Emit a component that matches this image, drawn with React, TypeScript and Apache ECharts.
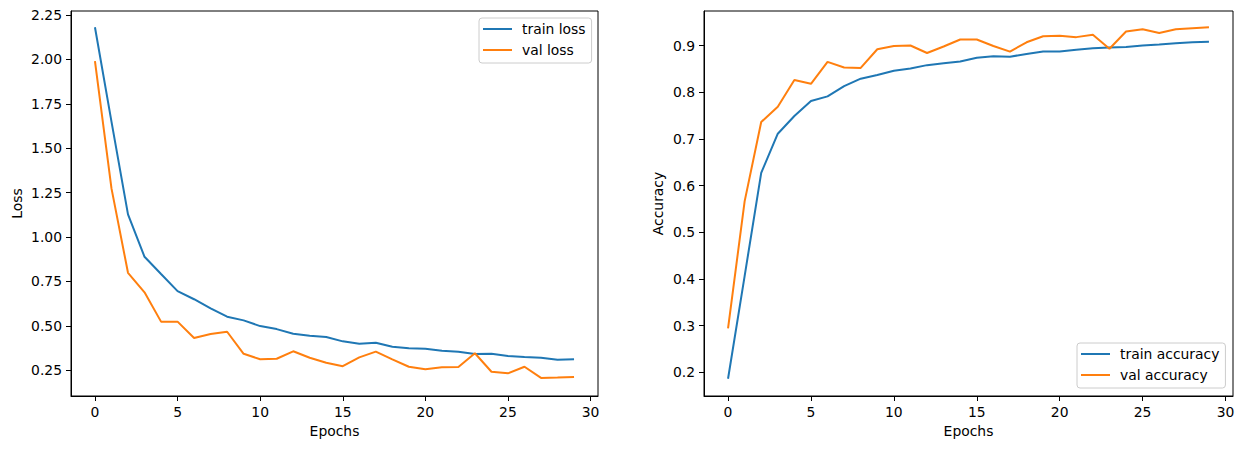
import React, { useEffect, useRef } from "react";
import * as echarts from "echarts";

const epochs = Array.from({ length: 30 }, (_, i) => i);

const trainLoss = [2.181, 1.65, 1.128, 0.889, 0.792, 0.696, 0.65, 0.599, 0.552, 0.531,
  0.499, 0.482, 0.456, 0.445, 0.437, 0.413, 0.4, 0.405, 0.383, 0.374,
  0.372, 0.36, 0.355, 0.342, 0.343, 0.33, 0.325, 0.321, 0.31, 0.312];
const valLoss = [1.991, 1.274, 0.799, 0.689, 0.524, 0.524, 0.432, 0.454, 0.467, 0.343,
  0.312, 0.315, 0.357, 0.321, 0.293, 0.273, 0.323, 0.355, 0.312, 0.27,
  0.256, 0.267, 0.269, 0.346, 0.242, 0.233, 0.27, 0.207, 0.209, 0.212];
const trainAcc = [0.186, 0.406, 0.627, 0.711, 0.749, 0.781, 0.791, 0.813, 0.829, 0.837,
  0.846, 0.851, 0.858, 0.862, 0.866, 0.874, 0.877, 0.876, 0.882, 0.887,
  0.887, 0.891, 0.894, 0.896, 0.897, 0.9, 0.902, 0.905, 0.907, 0.908];
const valAcc = [0.294, 0.566, 0.736, 0.769, 0.826, 0.818, 0.865, 0.853, 0.852, 0.892,
  0.899, 0.9, 0.884, 0.898, 0.913, 0.913, 0.899, 0.887, 0.907, 0.92,
  0.921, 0.918, 0.923, 0.893, 0.93, 0.935, 0.927, 0.935, 0.937, 0.939];

const xTicks = [0, 5, 10, 15, 20, 25, 30];
const lossTicks = [0.25, 0.5, 0.75, 1.0, 1.25, 1.5, 1.75, 2.0, 2.25];
const accTicks = [0.2, 0.3, 0.4, 0.5, 0.6, 0.7, 0.8, 0.9];

const FONT = "DejaVu Sans";
const FS = 13.9;
const BLUE = "#1f77b4";
const ORANGE = "#ff7f0e";

function xAxis(gridIndex: number) {
  return {
    type: "value",
    gridIndex,
    min: -1.45,
    max: 30.45,
    name: "Epochs",
    nameLocation: "middle",
    nameGap: 28,
    nameTextStyle: { color: "#000", fontFamily: FONT, fontSize: FS },
    splitLine: { show: false },
    axisLine: { show: true, onZero: false, lineStyle: { color: "#000", width: 1 } },
    axisTick: { show: true, length: 5, customValues: xTicks, lineStyle: { color: "#000", width: 1 } },
    axisLabel: { color: "#000", fontFamily: FONT, fontSize: FS, margin: 9, customValues: xTicks, formatter: (v: number) => String(v) },
  };
}

function yAxis(gridIndex: number, min: number, max: number, ticks: number[], digits: number, name: string, gap: number) {
  return {
    type: "value",
    gridIndex,
    min,
    max,
    name,
    nameLocation: "middle",
    nameGap: gap,
    nameTextStyle: { color: "#000", fontFamily: FONT, fontSize: FS },
    splitLine: { show: false },
    axisLine: { show: true, onZero: false, lineStyle: { color: "#000", width: 1 } },
    axisTick: { show: true, length: 5, customValues: ticks, lineStyle: { color: "#000", width: 1 } },
    axisLabel: { color: "#000", fontFamily: FONT, fontSize: FS, margin: 9, customValues: ticks, formatter: (v: number) => v.toFixed(digits) },
  };
}

function line(name: string, data: number[], color: string, idx: number) {
  return {
    type: "line",
    name,
    xAxisIndex: idx,
    yAxisIndex: idx,
    data: epochs.map((e, i) => [e, data[i]]),
    symbol: "none",
    showSymbol: false,
    lineStyle: { color, width: 2 },
    itemStyle: { color },
    color,
  };
}

function legend(data: string[], left: number, top: number) {
  return {
    data,
    orient: "vertical",
    left,
    top,
    itemWidth: 29,
    itemHeight: 14,
    itemGap: 7,
    padding: [4, 6, 6, 4],
    backgroundColor: "#fff",
    borderColor: "#cccccc",
    borderWidth: 1,
    borderRadius: 3,
    icon: "path://M0,6 L29,6 L29,8 L0,8 Z",
    textStyle: { color: "#000", fontFamily: FONT, fontSize: FS, padding: [0, 0, 0, 5] },
  };
}

export default function App() {
  const ref = useRef<HTMLDivElement>(null);
  useEffect(() => {
    if (!ref.current) return;
    const chart = echarts.init(ref.current, null, { renderer: "svg" });
    chart.setOption({
      animation: false,
      backgroundColor: "#fff",
      grid: [
        { left: 71, top: 11, width: 527, height: 385, show: true, borderColor: "#000", borderWidth: 1, backgroundColor: "transparent" },
        { left: 704, top: 11, width: 529, height: 385, show: true, borderColor: "#000", borderWidth: 1, backgroundColor: "transparent" },
      ],
      xAxis: [xAxis(0), xAxis(1)],
      yAxis: [
        yAxis(0, 0.1054, 2.2725, lossTicks, 2, "Loss", 47),
        yAxis(1, 0.149, 0.974, accTicks, 1, "Accuracy", 39),
      ],
      legend: [
        legend(["train loss", "val loss"], 479, 18),
        legend(["train accuracy", "val accuracy"], 1077, 343),
      ],
      series: [
        line("train loss", trainLoss, BLUE, 0),
        line("val loss", valLoss, ORANGE, 0),
        line("train accuracy", trainAcc, BLUE, 1),
        line("val accuracy", valAcc, ORANGE, 1),
      ],
    });
    return () => chart.dispose();
  }, []);
  return (
    <div
      ref={ref}
      style={{ position: "fixed", left: 0, top: 0, width: 1243, height: 449 }}
    />
  );
}
